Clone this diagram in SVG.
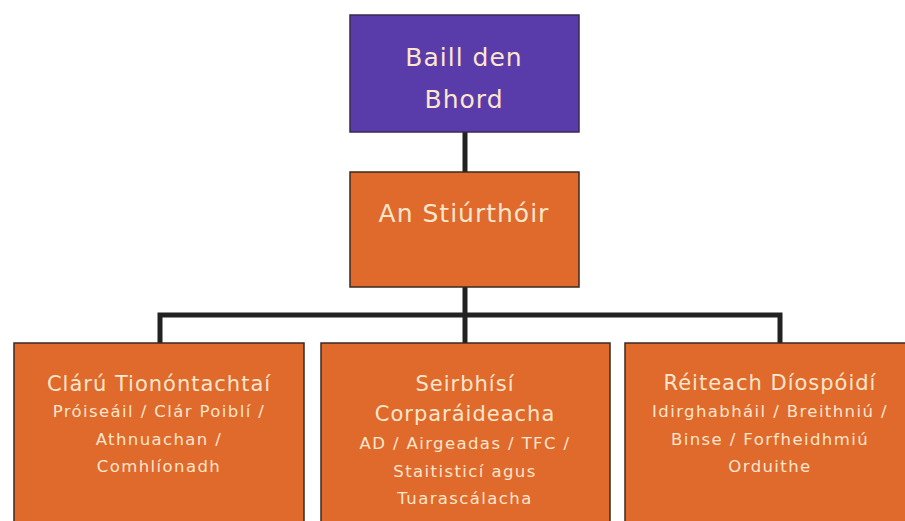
<svg xmlns="http://www.w3.org/2000/svg" width="905" height="521" viewBox="0 0 905 521">
<style>
.box{stroke:#3a2a20;stroke-width:1.5}
.org{fill:#e0692c}
.pur{fill:#5a3baa;stroke:#3a2a50}
text{font-family:"DejaVu Sans","Liberation Sans",sans-serif;text-anchor:middle;fill:#fce6cc}
.t1{font-size:25px;letter-spacing:1px}
.t2{font-size:21px;letter-spacing:1px}
.t3{font-size:16.5px;letter-spacing:1.4px}
.conn{stroke:#222;stroke-width:5;fill:none}
</style>
<rect width="905" height="521" fill="#ffffff"/>
<g id="connectors">
<line class="conn" x1="465" y1="132" x2="465" y2="172"/>
<line class="conn" x1="465" y1="287" x2="465" y2="343"/>
<polyline class="conn" points="160,343 160,315 780,315 780,343"/>
</g>
<g id="baill">
<rect class="box pur" x="350" y="15" width="229" height="117"/>
<text class="t1" x="464" y="66" fill="#f2eaf8">Baill den</text>
<text class="t1" x="464" y="108" fill="#f2eaf8">Bhord</text>
</g>
<g id="stiurthoir">
<rect class="box org" x="350" y="172" width="229" height="115"/>
<text class="t1" x="464" y="222">An Stiúrthóir</text>
</g>
<g id="claru">
<rect class="box org" x="14" y="343" width="290" height="190"/>
<text class="t2" x="159" y="391">Clárú Tionóntachtaí</text>
<text class="t3" x="159" y="417">Próiseáil / Clár Poiblí /</text>
<text class="t3" x="159" y="445">Athnuachan /</text>
<text class="t3" x="159" y="472">Comhlíonadh</text>
</g>
<g id="seirbhisi">
<rect class="box org" x="321" y="343" width="289" height="190"/>
<text class="t2" x="465" y="391">Seirbhísí</text>
<text class="t2" x="465" y="421">Corparáideacha</text>
<text class="t3" x="465" y="449">AD / Airgeadas / TFC /</text>
<text class="t3" x="465" y="477">Staitisticí agus</text>
<text class="t3" x="465" y="504">Tuarascálacha</text>
</g>
<g id="reiteach">
<rect class="box org" x="625" y="343" width="290" height="190"/>
<text class="t2" x="770" y="390">Réiteach Díospóidí</text>
<text class="t3" x="770" y="417">Idirghabháil / Breithniú /</text>
<text class="t3" x="770" y="445">Binse / Forfheidhmiú</text>
<text class="t3" x="770" y="472">Orduithe</text>
</g>
</svg>
